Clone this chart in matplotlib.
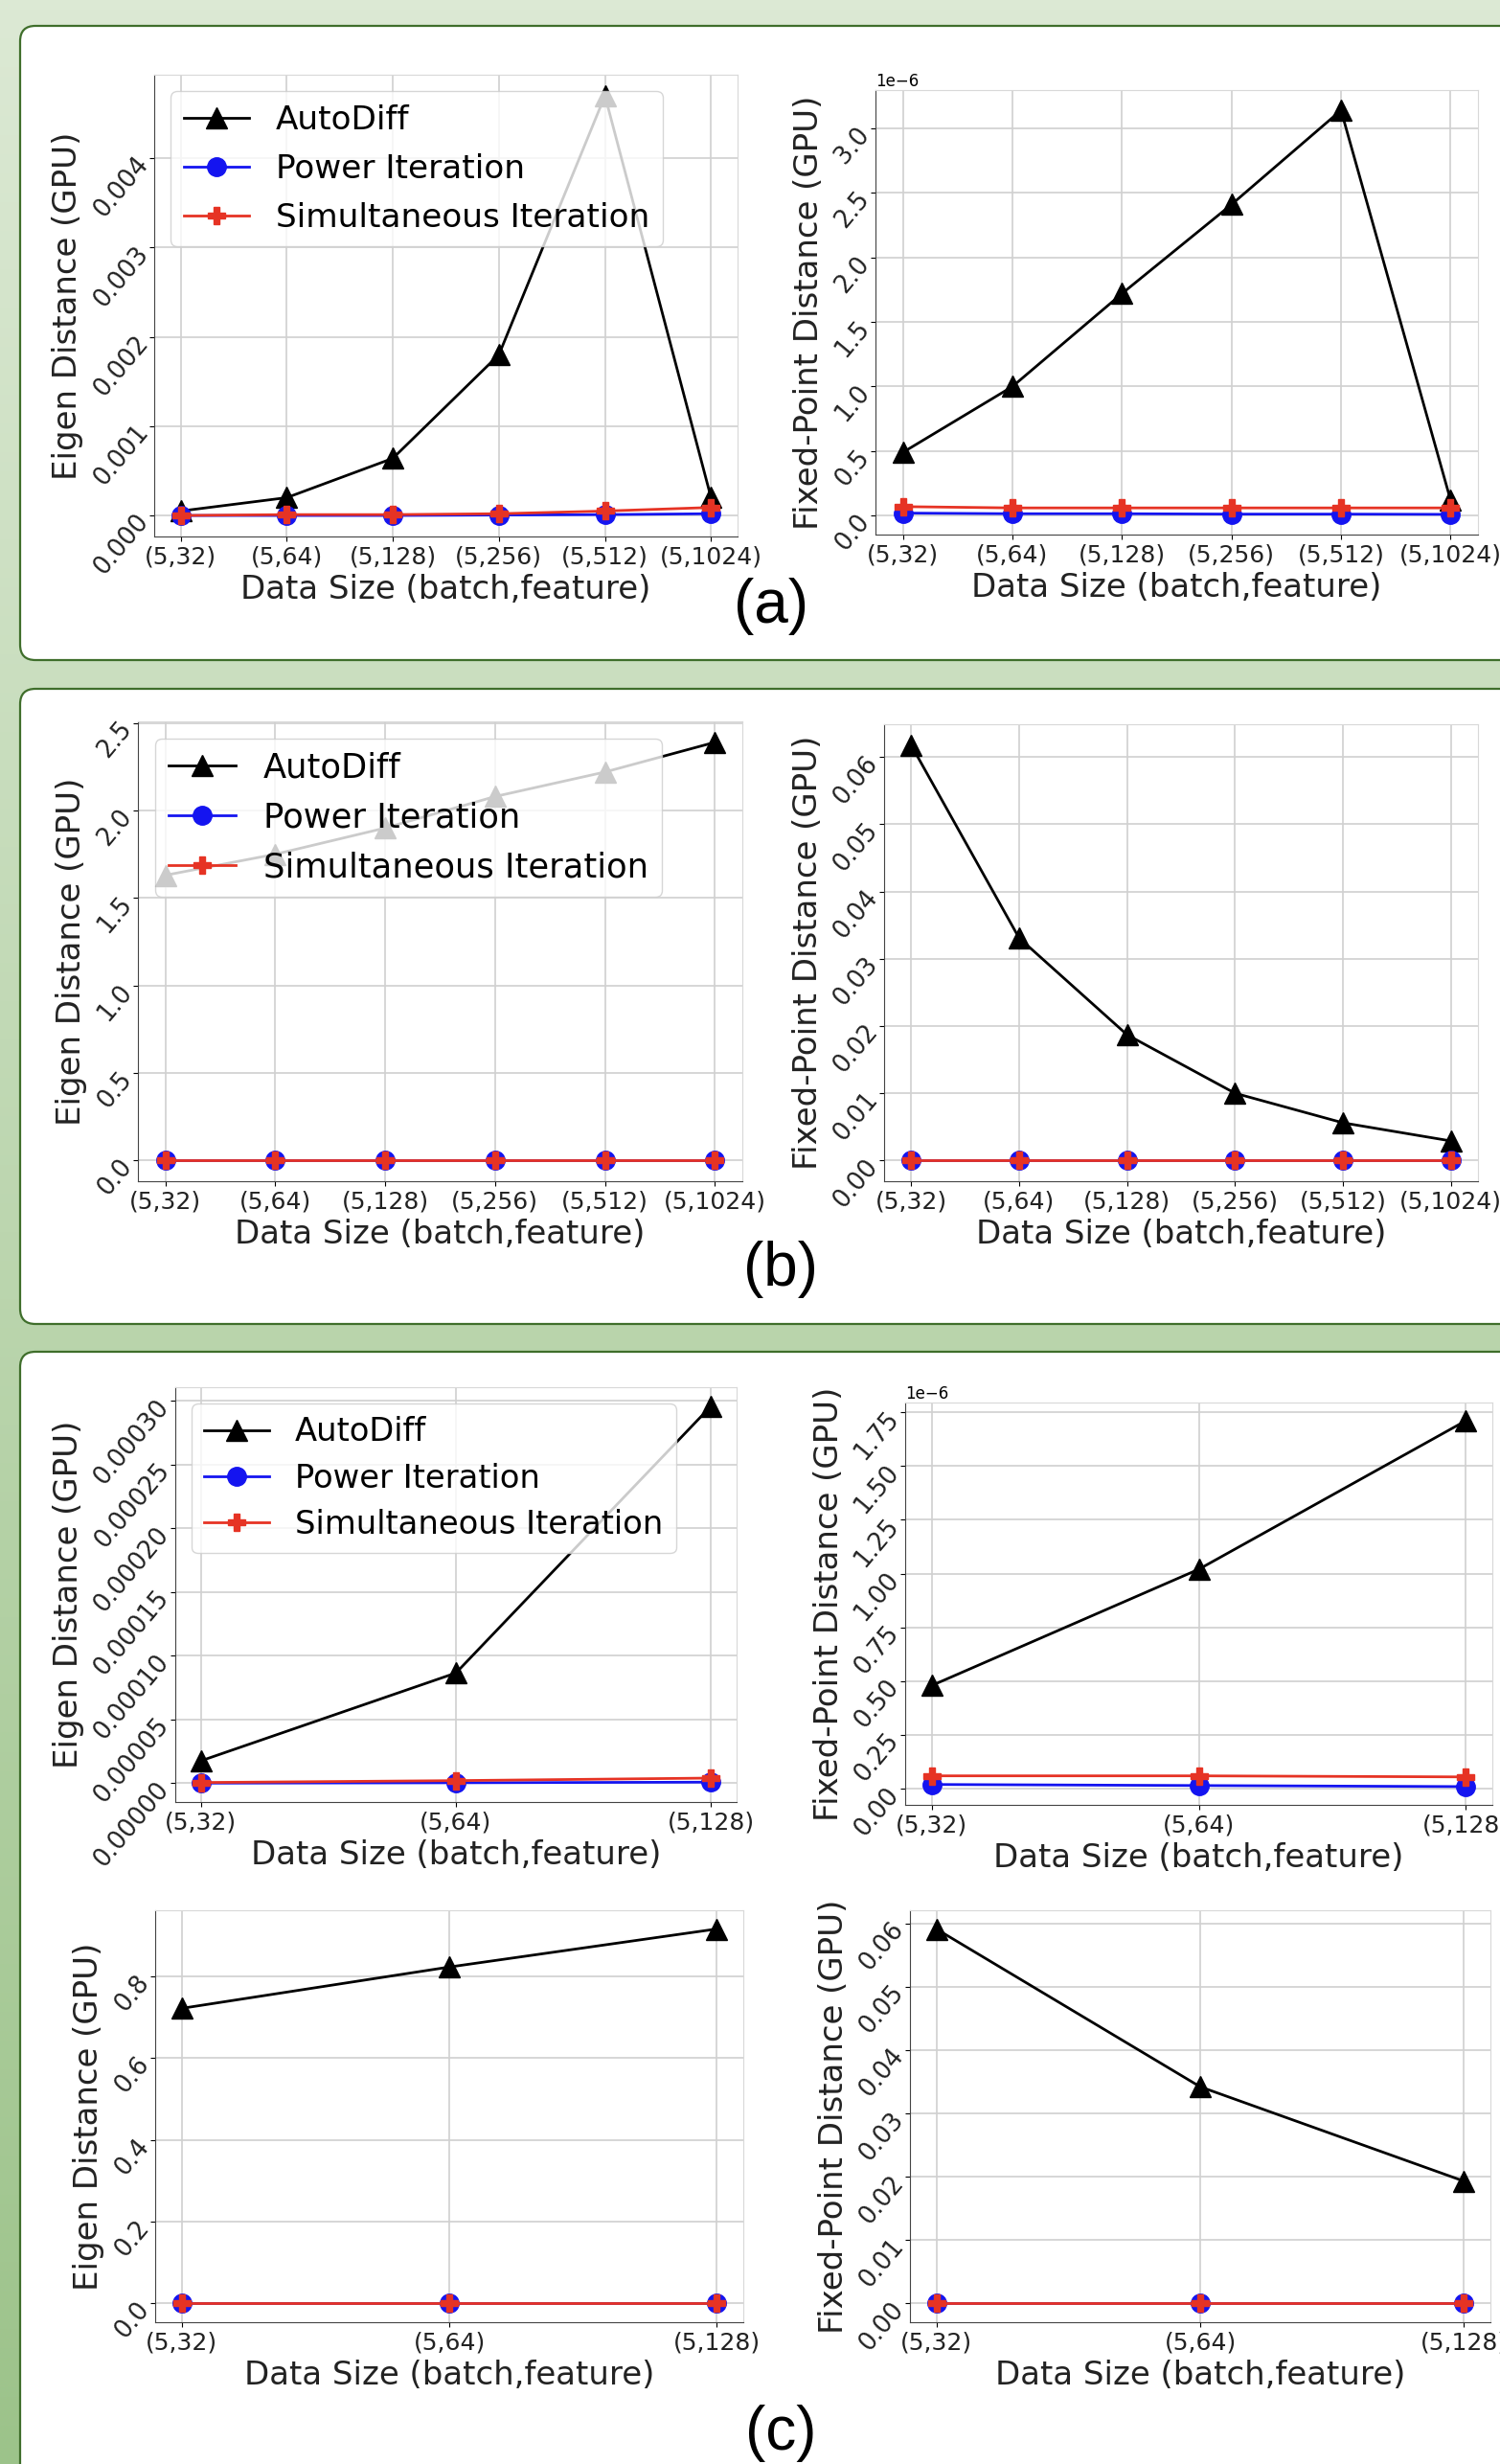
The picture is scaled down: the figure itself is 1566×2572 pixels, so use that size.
import numpy as np
import matplotlib
matplotlib.use("Agg")
import matplotlib.pyplot as plt
from matplotlib.patches import FancyBboxPatch
from matplotlib.ticker import MultipleLocator

### ------------------------------ Data ------------------------------ ###

sizes_6 = ["(5,32)", "(5,64)", "(5,128)", "(5,256)", "(5,512)", "(5,1024)"]
sizes_3 = ["(5,32)", "(5,64)", "(5,128)"]

# (a) eigen distance
a_eig_auto = [0.00005, 0.0002, 0.00064, 0.0018, 0.0047, 0.0002]
a_eig_power = [0.0, 0.0, 0.0, 0.000005, 0.00001, 0.00002]
a_eig_simul = [0.0, 0.00001, 0.00001, 0.00002, 0.00005, 0.00009]

# (a) fixed-point distance
a_fp_auto = [0.49e-6, 1.0e-6, 1.72e-6, 2.41e-6, 3.14e-6, 0.12e-6]
a_fp_power = [0.02e-6, 0.015e-6, 0.015e-6, 0.012e-6, 0.012e-6, 0.01e-6]
a_fp_simul = [0.07e-6, 0.06e-6, 0.06e-6, 0.06e-6, 0.06e-6, 0.06e-6]

# (b) eigen distance
b_eig_auto = [1.63, 1.75, 1.90, 2.08, 2.22, 2.39]
b_eig_power = [0.0, 0.0, 0.0, 0.0, 0.0, 0.0]
b_eig_simul = [0.0, 0.0, 0.0, 0.0, 0.0, 0.0]

# (b) fixed-point distance
b_fp_auto = [0.0618, 0.0331, 0.0187, 0.0100, 0.0056, 0.0029]
b_fp_power = [0.0, 0.0, 0.0, 0.0, 0.0, 0.0]
b_fp_simul = [0.0, 0.0, 0.0, 0.0, 0.0, 0.0]

# (c) top row
c1_eig_auto = [0.0000175, 0.0000865, 0.000296]
c1_eig_power = [0.0, 0.0000003, 0.0000008]
c1_eig_simul = [0.0000005, 0.000002, 0.000004]

c1_fp_auto = [0.48e-6, 1.02e-6, 1.71e-6]
c1_fp_power = [0.02e-6, 0.015e-6, 0.01e-6]
c1_fp_simul = [0.06e-6, 0.06e-6, 0.055e-6]

# (c) bottom row
c2_eig_auto = [0.722, 0.823, 0.916]
c2_eig_power = [0.0, 0.0, 0.0]
c2_eig_simul = [0.0, 0.0, 0.0]

c2_fp_auto = [0.0591, 0.0342, 0.0193]
c2_fp_power = [0.0, 0.0, 0.0]
c2_fp_simul = [0.0, 0.0, 0.0]

### ------------------------------ Figure + background ------------------------------ ###

W, H = 1566, 2572
fig = plt.figure(figsize=(W / 100, H / 100), dpi=100)

bg = fig.add_axes([0, 0, 1, 1], zorder=-10)
top_col = np.array([0xdc, 0xe9, 0xd4]) / 255
bot_col = np.array([0x9c, 0xc3, 0x8a]) / 255
t = np.linspace(0, 1, 256)[:, None, None]
grad = top_col * (1 - t) + bot_col * t
bg.imshow(grad, extent=[0, W, H, 0], aspect="auto")
bg.set_xlim(0, W)
bg.set_ylim(H, 0)
bg.axis("off")

# white rounded panels (right / bottom edges run off the picture)
for y0, y1 in [(27, 689), (719, 1382), (1411, 2640)]:
    bg.add_patch(FancyBboxPatch((21, y0), 1640, y1 - y0,
                                boxstyle="round,pad=0,rounding_size=16",
                                facecolor="white", edgecolor="#3f6e2b", lw=1.6))

for txt, cx, cy in [("(a)", 805, 633), ("(b)", 815, 1325), ("(c)", 815, 2540)]:
    bg.text(cx, cy, txt, fontsize=46, family="Liberation Sans",
            ha="center", va="center")


def px_axes(x0, x1, y0, y1):
    # axes from pixel box (y measured from top)
    return fig.add_axes([x0 / W, 1 - y1 / H, (x1 - x0) / W, (y1 - y0) / H])


def draw(ax, labels, auto, power, simul, ylabel, step, legend=False, leg_fs=24.7, leg_sp=0.52):
    x = np.arange(len(labels))
    ax.plot(x, auto, color="black", marker="^", ms=16, lw=2, label="AutoDiff")
    ax.plot(x, power, color="#1414f0", marker="o", ms=14, lw=2, label="Power Iteration")
    ax.plot(x, simul, color="#e63324", marker="P", ms=13, lw=2, label="Simultaneous Iteration")
    ax.set_xticks(x)
    ax.set_xticklabels(labels, fontsize=18, color="#222222")
    ax.yaxis.set_major_locator(MultipleLocator(step))
    ax.tick_params(axis="y", pad=6)
    for lab in ax.get_yticklabels():
        lab.set_rotation(50)
        lab.set_rotation_mode("anchor")
        lab.set_fontsize(18.5)
        lab.set_color("#222222")
    ax.yaxis.get_offset_text().set_fontsize(12)
    ax.set_xlabel("Data Size (batch,feature)", fontsize=24.5, color="#222222")
    ax.set_ylabel(ylabel, fontsize=24.5, color="#222222")
    ax.grid(True, color="#d0d0d0", lw=1.2)
    ax.set_axisbelow(True)
    for s in ["top", "right"]:
        ax.spines[s].set_color("#d8d8d8")
    for s in ["left", "bottom"]:
        ax.spines[s].set_color("#444444")
    if legend:
        ax.legend(loc="upper left", fontsize=leg_fs, labelspacing=leg_sp)


EIG = "Eigen Distance (GPU)"
FP = "Fixed-Point Distance (GPU)"

### ------------------------------ Panel (a) ------------------------------ ###

ax = px_axes(161, 770, 78, 560)
draw(ax, sizes_6, a_eig_auto, a_eig_power, a_eig_simul, EIG, 0.001, legend=True)

ax = px_axes(914, 1543, 94, 558)
draw(ax, sizes_6, a_fp_auto, a_fp_power, a_fp_simul, FP, 0.5e-6)

### ------------------------------ Panel (b) ------------------------------ ###

ax = px_axes(144, 775, 753, 1233)
draw(ax, sizes_6, b_eig_auto, b_eig_power, b_eig_simul, EIG, 0.5, legend=True, leg_fs=25.4, leg_sp=0.5)

ax = px_axes(923, 1543, 756, 1233)
draw(ax, sizes_6, b_fp_auto, b_fp_power, b_fp_simul, FP, 0.01)

### ------------------------------ Panel (c) ------------------------------ ###

ax = px_axes(183, 769, 1448, 1881)
draw(ax, sizes_3, c1_eig_auto, c1_eig_power, c1_eig_simul, EIG, 0.00005, legend=True, leg_fs=24.3, leg_sp=0.45)

ax = px_axes(945, 1558, 1464, 1884)
draw(ax, sizes_3, c1_fp_auto, c1_fp_power, c1_fp_simul, FP, 0.25e-6)

ax = px_axes(162, 776, 1994, 2424)
draw(ax, sizes_3, c2_eig_auto, c2_eig_power, c2_eig_simul, EIG, 0.2)

ax = px_axes(950, 1556, 1994, 2424)
draw(ax, sizes_3, c2_fp_auto, c2_fp_power, c2_fp_simul, FP, 0.01)

fig.savefig("out.png", dpi=100)
